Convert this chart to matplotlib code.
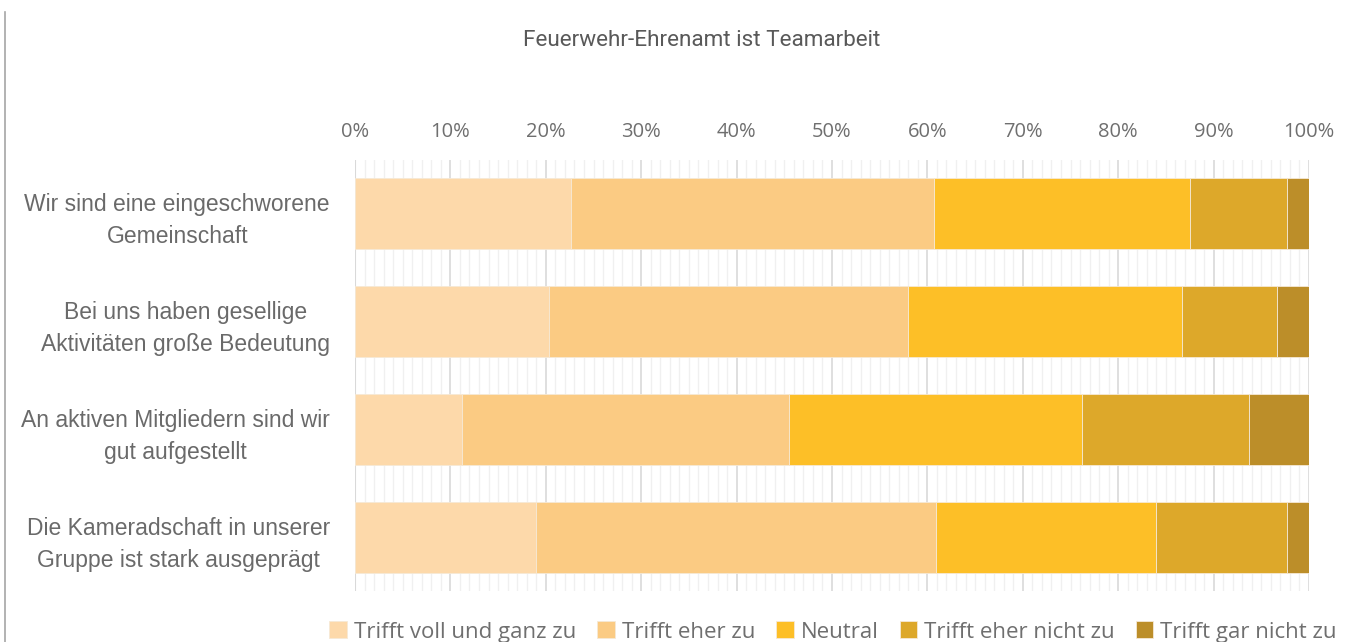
import matplotlib.pyplot as plt
import numpy as np
from matplotlib.lines import Line2D
from matplotlib.ticker import MultipleLocator, PercentFormatter

categories = [
  "Wir sind eine eingeschworene\nGemeinschaft",
  "Bei uns haben gesellige\nAktivitäten große Bedeutung",
  "An aktiven Mitgliedern sind wir\ngut aufgestellt",
  "Die Kameradschaft in unserer\nGruppe ist stark ausgeprägt",
]
series_names = [
  "Trifft voll und ganz zu",
  "Trifft eher zu",
  "Neutral",
  "Trifft eher nicht zu",
  "Trifft gar nicht zu",
]
voll = [22.6, 20.3, 11.2, 19.0]
eher = [38.1, 37.7, 34.3, 41.9]
neutral = [26.8, 28.7, 30.7, 23.1]
eher_nicht = [10.2, 9.9, 17.5, 13.7]
gar_nicht = [2.3, 3.4, 6.3, 2.3]
colors = ["#FDD9AA", "#FBCB83", "#FDBF27", "#DDA82A", "#BC8E29"]

values = np.array([voll, eher, neutral, eher_nicht, gar_nicht])
values = values / values.sum(axis=0)

fig = plt.figure(figsize=(13.51, 6.42), dpi=100)
ax = fig.add_axes([355 / 1351, 1 - 591 / 642, 954 / 1351, 431 / 642])

y = np.arange(len(categories))
left = np.zeros(len(categories))
for vals, name, col in zip(values, series_names, colors):
  ax.barh(y, vals, left=left, height=0.66, color=col, label=name,
          edgecolor="#F6E9D6", linewidth=0.6, zorder=3)
  left += vals

ax.set_xlim(0, 1)
ax.set_ylim(len(categories) - 0.5, -0.5)
ax.xaxis.set_major_locator(MultipleLocator(0.1))
ax.xaxis.set_minor_locator(MultipleLocator(0.01))
ax.xaxis.set_major_formatter(PercentFormatter(1.0, decimals=0))
ax.grid(axis="x", which="major", color="#D9D9D9", linewidth=1.2, zorder=0)
ax.grid(axis="x", which="minor", color="#F0F0F0", linewidth=1.0, zorder=0)
ax.xaxis.tick_top()
ax.tick_params(axis="x", which="both", length=0, pad=13, labelsize=14.5, labelcolor="#6F6F6F")
for lbl in ax.get_xticklabels():
  lbl.set_family("Open Sans")

ax.set_yticks(y)
ax.set_yticklabels(categories, fontsize=16.5, color="#6A6A6A", family="Liberation Sans",
                   multialignment="center", linespacing=1.5)
ax.tick_params(axis="y", length=0, pad=18)
for spine in ax.spines.values():
  spine.set_visible(False)
ax.axvline(0, color="#D9D9D9", linewidth=1.5, zorder=2)

fig.text(702 / 1351, 1 - 40 / 642, "Feuerwehr-Ehrenamt ist Teamarbeit", ha="center", va="center",
         fontsize=16.2, color="#595959", family="Roboto")

# thin frame line on the left edge
fig.add_artist(Line2D([5 / 1351, 5 / 1351], [0, 1 - 12 / 642], color="#A6A6A6", linewidth=1.2))

fig.legend(*ax.get_legend_handles_labels(), loc="center", ncol=5,
           bbox_to_anchor=(833 / 1351, 1 - 632 / 642), frameon=False,
           prop={"family": "Open Sans", "size": 16}, labelcolor="#6F6F6F",
           handlelength=0.8, handleheight=0.8, handletextpad=0.3, columnspacing=0.95)

fig.savefig("out.png", dpi=100)
